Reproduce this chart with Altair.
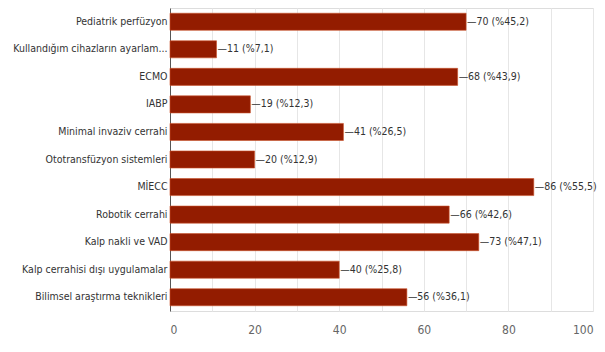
import altair as alt
import pandas as pd

categories = [
    "Pediatrik perfüzyon",
    "Kullandığım cihazların ayarlam...",
    "ECMO",
    "IABP",
    "Minimal invaziv cerrahi",
    "Ototransfüzyon sistemleri",
    "MİECC",
    "Robotik cerrahi",
    "Kalp nakli ve VAD",
    "Kalp cerrahisi dışı uygulamalar",
    "Bilimsel araştırma teknikleri",
]
counts = [70, 11, 68, 19, 41, 20, 86, 66, 73, 40, 56]
percents = ["45,2", "7,1", "43,9", "12,3", "26,5", "12,9", "55,5", "42,6", "47,1", "25,8", "36,1"]
x_ticks = [0, 10, 20, 30, 40, 50, 60, 70, 80, 90, 100]

df = pd.DataFrame({"cat": categories, "n": counts, "pct": percents})
df["label"] = "\u2014" + df["n"].astype(str) + " (%" + df["pct"] + ")"

FONT = "DejaVu Sans Condensed, Liberation Sans, sans-serif"

y_enc = alt.Y("cat:N", sort=categories, title=None,
              scale=alt.Scale(paddingInner=0.38, paddingOuter=0.19),
              axis=alt.Axis(ticks=False, labelPadding=3, domainColor="#555",
                            labelColor="#333", labelFontSize=10.5, labelFont=FONT,
                            labelLimit=200))
x_enc = alt.X("n:Q", title=None,
              scale=alt.Scale(domain=[0, 100], nice=False),
              axis=alt.Axis(values=x_ticks, ticks=False, domain=False,
                            grid=True, gridColor="#e6e6e6",
                            labelExpr="datum.value % 20 == 0 ? datum.label : ''",
                            labelColor="#666", labelFontSize=12, labelFont=FONT,
                            labelPadding=13))

bars = alt.Chart(df).mark_bar(color="#931c00", stroke="#c9522a", strokeWidth=0.6).encode(
    x=x_enc, y=y_enc)

labels = alt.Chart(df).mark_text(align="left", baseline="middle", dx=1,
                                 font=FONT, fontSize=10.5, color="#333").encode(
    x="n:Q", y=alt.Y("cat:N", sort=categories), text="label:N")

chart = alt.layer(bars, labels).properties(
    width=423, height=303,
    autosize=alt.AutoSizeParams(type="none"),
    padding={"left": 162, "top": 0, "right": 4, "bottom": 26},
).configure_view(stroke="#dddddd").configure(background="white")

chart.save("out.html", embed_options={"renderer": "svg", "actions": False})
